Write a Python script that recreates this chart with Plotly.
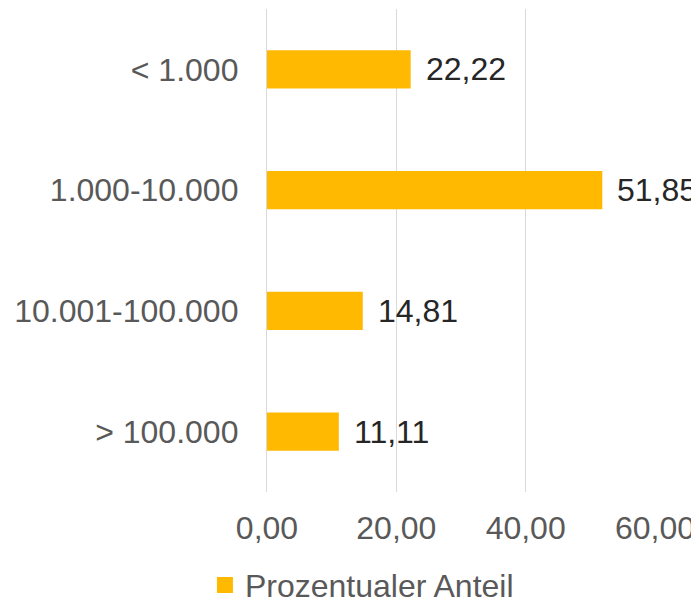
import plotly.graph_objects as go

categories = ["< 1.000", "1.000-10.000", "10.001-100.000", "> 100.000"]
values = [22.22, 51.85, 14.81, 11.11]
series_name = "Prozentualer Anteil"
x_ticks = [0, 20, 40, 60]

labels = [f"{v:.2f}".replace(".", ",") for v in values]
BAR_COLOR = "#FFB900"
FONT = "Liberation Sans, Arial"

fig = go.Figure()
fig.add_trace(go.Bar(
    x=values, y=categories, orientation="h", name=series_name,
    marker=dict(color=BAR_COLOR, line=dict(width=0)),
    width=0.315, showlegend=False,
))
# legend entry with a larger square swatch
fig.add_trace(go.Scatter(
    x=[None], y=[None], mode="markers", name=series_name,
    marker=dict(symbol="square", size=16, color=BAR_COLOR),
    showlegend=True, hoverinfo="skip",
))
for v, c, t in zip(values, categories, labels):
    fig.add_annotation(x=v, y=c, text=t, showarrow=False, xanchor="left",
                       xshift=13, font=dict(size=32, color="#262626", family=FONT))

# page body adds an 8px margin, so the figure is 8px smaller than the window
fig.update_layout(
    width=691, height=595,
    margin=dict(l=259, r=44, t=1, b=111, autoexpand=False),
    paper_bgcolor="white", plot_bgcolor="white",
    separators=",.",
    font=dict(family=FONT, size=32, color="#595959"),
    xaxis=dict(range=[0, 60], tickvals=x_ticks, tickformat=".2f",
               showgrid=True, gridcolor="#D9D9D9", gridwidth=1.3,
               zeroline=False, showline=False, ticks="", automargin=False,
               ticklabelstandoff=14,
               tickfont=dict(size=32, color="#595959")),
    yaxis=dict(autorange="reversed", showgrid=False, zeroline=False,
               showline=True, linecolor="#D9D9D9", linewidth=1.3, ticks="",
               automargin=False, ticklabelstandoff=21,
               tickfont=dict(size=32, color="#595959")),
    showlegend=True,
    legend=dict(orientation="h", xref="container", yref="container",
                x=0.285, y=0.03, xanchor="left", yanchor="middle",
                font=dict(size=32, color="#595959"), bgcolor="rgba(0,0,0,0)"),
)

fig.write_html("out.html")
